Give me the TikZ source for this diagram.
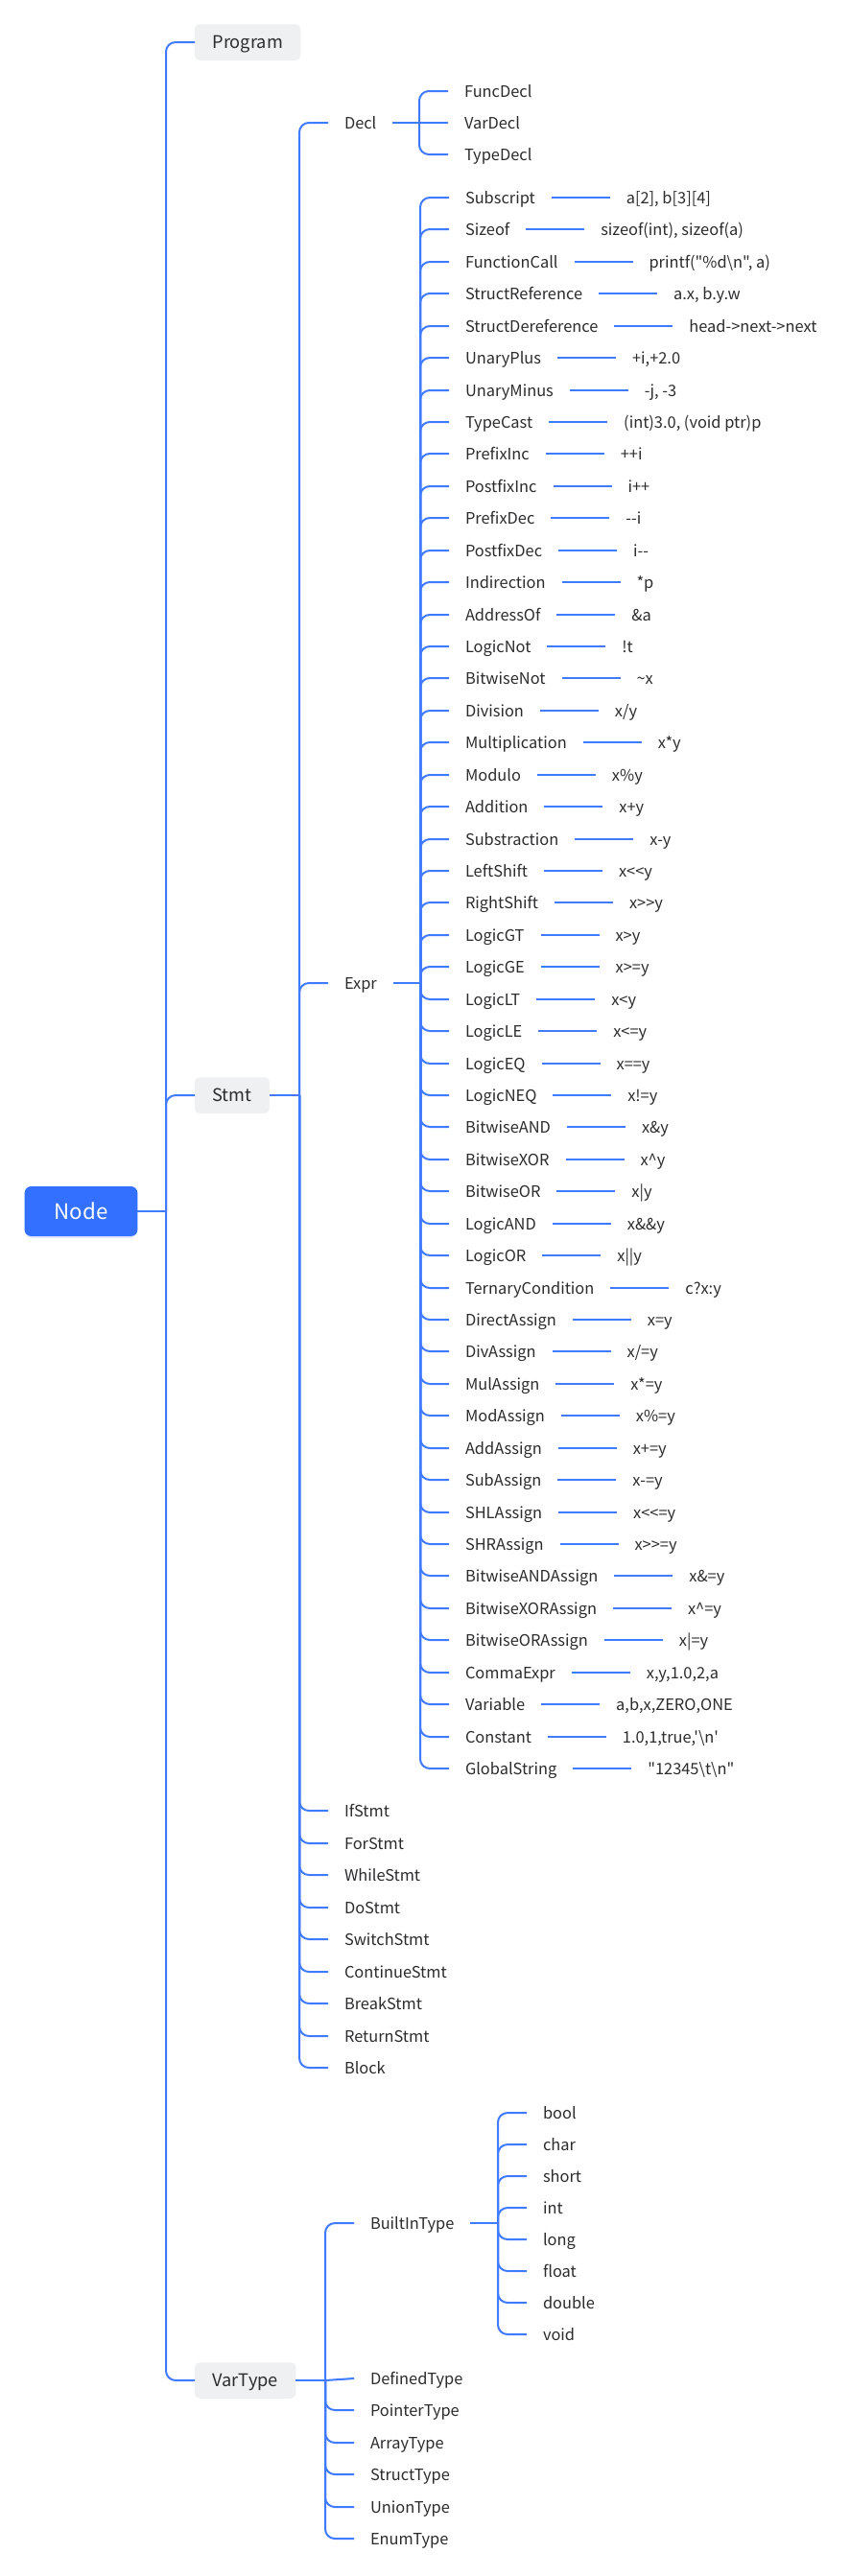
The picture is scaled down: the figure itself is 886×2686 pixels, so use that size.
\documentclass[tikz,border=0pt]{standalone}
\usepackage{fontspec}
\setmainfont{Noto Sans CJK SC}[Ligatures=TeXOff]
\usetikzlibrary{positioning,shadows}
\definecolor{linkblue}{RGB}{64,122,255}
\definecolor{rootblue}{RGB}{51,112,255}
\definecolor{topicgrey}{RGB}{239,240,242}
\definecolor{textgrey}{RGB}{44,44,46}

% one Expr child with its example
\newcommand\exprop[3]{%
  \node[leaf,anchor=west] (e#1) at (468,{round(206+33.43*#1)}) {#2};
  \node[leaf,right=61pt of e#1] (v#1) {#3};
  \draw[branch] (ej) |- (e#1.west);
  \draw[link] (e#1) -- (v#1);
}

\begin{document}
\begin{tikzpicture}[x=1pt,y=-1pt,
    leaf/.style={font=\fontsize{16.4}{18}\selectfont,text=textgrey,inner xsep=17pt,inner ysep=0pt,
      text height=14pt,text depth=2pt,outer sep=0pt},
    topic/.style={fill=topicgrey,rounded corners=5pt,font=\fontsize{18.2}{20}\selectfont,text=textgrey,
      inner xsep=18.5pt,minimum height=37.5pt,text height=14pt,text depth=0.8pt,outer sep=0pt},
    root/.style={fill=rootblue,rounded corners=7pt,font=\fontsize{22.3}{24}\selectfont,text=white,
      inner xsep=31pt,minimum height=52pt,text height=17pt,text depth=0.8pt,outer sep=0pt,
      drop shadow={shadow xshift=0pt,shadow yshift=-2pt,opacity=0.2,fill=rootblue!60}},
    branch/.style={linkblue,line width=2pt,rounded corners=10pt},
    stub/.style={linkblue,line width=2.6pt},
    link/.style={linkblue,line width=2pt}]
    % page
    \fill[white] (0,0) rectangle (886,2686);
    \useasboundingbox (0,0) rectangle (886,2686);

    % root and first level
    \node[root] (node) at (84.5,1263) {Node};
    \node[topic,anchor=west] (program) at (203,44) {Program};
    \node[topic,anchor=west] (stmt) at (203,1142) {Stmt};
    \node[topic,anchor=west] (vartype) at (203,2482) {VarType};
    \coordinate (tj) at (173,1263);
    \draw[link] (node.east) -- (tj);
    \foreach \t in {program,stmt,vartype}
        \draw[branch] (tj) |- (\t.west);

    % Stmt
    \coordinate (sj) at (312,1142);
    \draw[stub] (stmt.east) -- (sj);
    \node[leaf,anchor=west] (decl) at (342,128) {Decl};
    \node[leaf,anchor=west] (expr) at (342,1025) {Expr};
    \foreach \s [count=\i from 0] in {IfStmt,ForStmt,WhileStmt,DoStmt,SwitchStmt,ContinueStmt,BreakStmt,ReturnStmt,Block}
        \node[leaf,anchor=west] (st\i) at (342,{round(1888.3+33.46*\i)}) {\s};
    \foreach \t in {decl,expr,st0,st1,st2,st3,st4,st5,st6,st7,st8}
        \draw[branch] (sj) |- (\t.west);

    % Decl
    \coordinate (dj) at (437,128);
    \draw[stub] (decl.east) -- (dj);
    \node[leaf,anchor=west] (funcdecl) at (467,95) {FuncDecl};
    \node[leaf,anchor=west] (vardecl) at (467,128) {VarDecl};
    \node[leaf,anchor=west] (typedecl) at (467,161) {TypeDecl};
    \draw[branch] (dj) |- (funcdecl.west);
    \draw[branch] (dj) -- (vardecl.west);
    \draw[branch] (dj) |- (typedecl.west);

    % Expr
    \coordinate (ej) at (438,1025);
    \draw[stub] (expr.east) -- (ej);
    \exprop{0}{Subscript}{a[2], b[3][4]}
    \exprop{1}{Sizeof}{sizeof(int), sizeof(a)}
    \exprop{2}{FunctionCall}{printf("\%d\textbackslash n", a)}
    \exprop{3}{StructReference}{a.x, b.y.w}
    \exprop{4}{StructDereference}{head->next->next}
    \exprop{5}{UnaryPlus}{+i,+2.0}
    \exprop{6}{UnaryMinus}{-j, -3}
    \exprop{7}{TypeCast}{(int)3.0, (void ptr)p}
    \exprop{8}{PrefixInc}{++i}
    \exprop{9}{PostfixInc}{i++}
    \exprop{10}{PrefixDec}{--i}
    \exprop{11}{PostfixDec}{i--}
    \exprop{12}{Indirection}{*p}
    \exprop{13}{AddressOf}{\&a}
    \exprop{14}{LogicNot}{!t}
    \exprop{15}{BitwiseNot}{\textasciitilde x}
    \exprop{16}{Division}{x/y}
    \exprop{17}{Multiplication}{x*y}
    \exprop{18}{Modulo}{x\%y}
    \exprop{19}{Addition}{x+y}
    \exprop{20}{Substraction}{x-y}
    \exprop{21}{LeftShift}{x<<y}
    \exprop{22}{RightShift}{x>>y}
    \exprop{23}{LogicGT}{x>y}
    \exprop{24}{LogicGE}{x>=y}
    \exprop{25}{LogicLT}{x<y}
    \exprop{26}{LogicLE}{x<=y}
    \exprop{27}{LogicEQ}{x==y}
    \exprop{28}{LogicNEQ}{x!=y}
    \exprop{29}{BitwiseAND}{x\&y}
    \exprop{30}{BitwiseXOR}{x\textasciicircum y}
    \exprop{31}{BitwiseOR}{x|y}
    \exprop{32}{LogicAND}{x\&\&y}
    \exprop{33}{LogicOR}{x||y}
    \exprop{34}{TernaryCondition}{c?x:y}
    \exprop{35}{DirectAssign}{x=y}
    \exprop{36}{DivAssign}{x/=y}
    \exprop{37}{MulAssign}{x*=y}
    \exprop{38}{ModAssign}{x\%=y}
    \exprop{39}{AddAssign}{x+=y}
    \exprop{40}{SubAssign}{x-=y}
    \exprop{41}{SHLAssign}{x<<=y}
    \exprop{42}{SHRAssign}{x>>=y}
    \exprop{43}{BitwiseANDAssign}{x\&=y}
    \exprop{44}{BitwiseXORAssign}{x\textasciicircum=y}
    \exprop{45}{BitwiseORAssign}{x|=y}
    \exprop{46}{CommaExpr}{x,y,1.0,2,a}
    \exprop{47}{Variable}{a,b,x,ZERO,ONE}
    \exprop{48}{Constant}{1.0,1,true,'\textbackslash n'}
    \exprop{49}{GlobalString}{"12345\textbackslash t\textbackslash n"}

    % VarType
    \coordinate (vj) at (339,2482);
    \draw[stub] (vartype.east) -- (vj);
    \node[leaf,anchor=west] (builtin) at (369,2318) {BuiltInType};
    \foreach \s [count=\i from 0] in {DefinedType,PointerType,ArrayType,StructType,UnionType,EnumType}
        \node[leaf,anchor=west] (vt\i) at (369,{round(2480+33.4*\i)}) {\s};
    \draw[branch] (vj) |- (builtin.west);
    \draw[branch] (vj) -- (vt0.west);
    \foreach \i in {1,...,5}
        \draw[branch] (vj) |- (vt\i.west);

    % BuiltInType
    \coordinate (bj) at (519,2318);
    \draw[stub] (builtin.east) -- (bj);
    \foreach \s [count=\i from 0] in {bool,char,short,int,long,float,double,void} {
        \node[leaf,anchor=west] (bt\i) at (549,2203+33*\i) {\s};
        \draw[branch] (bj) |- (bt\i.west);
    }
\end{tikzpicture}
\end{document}
